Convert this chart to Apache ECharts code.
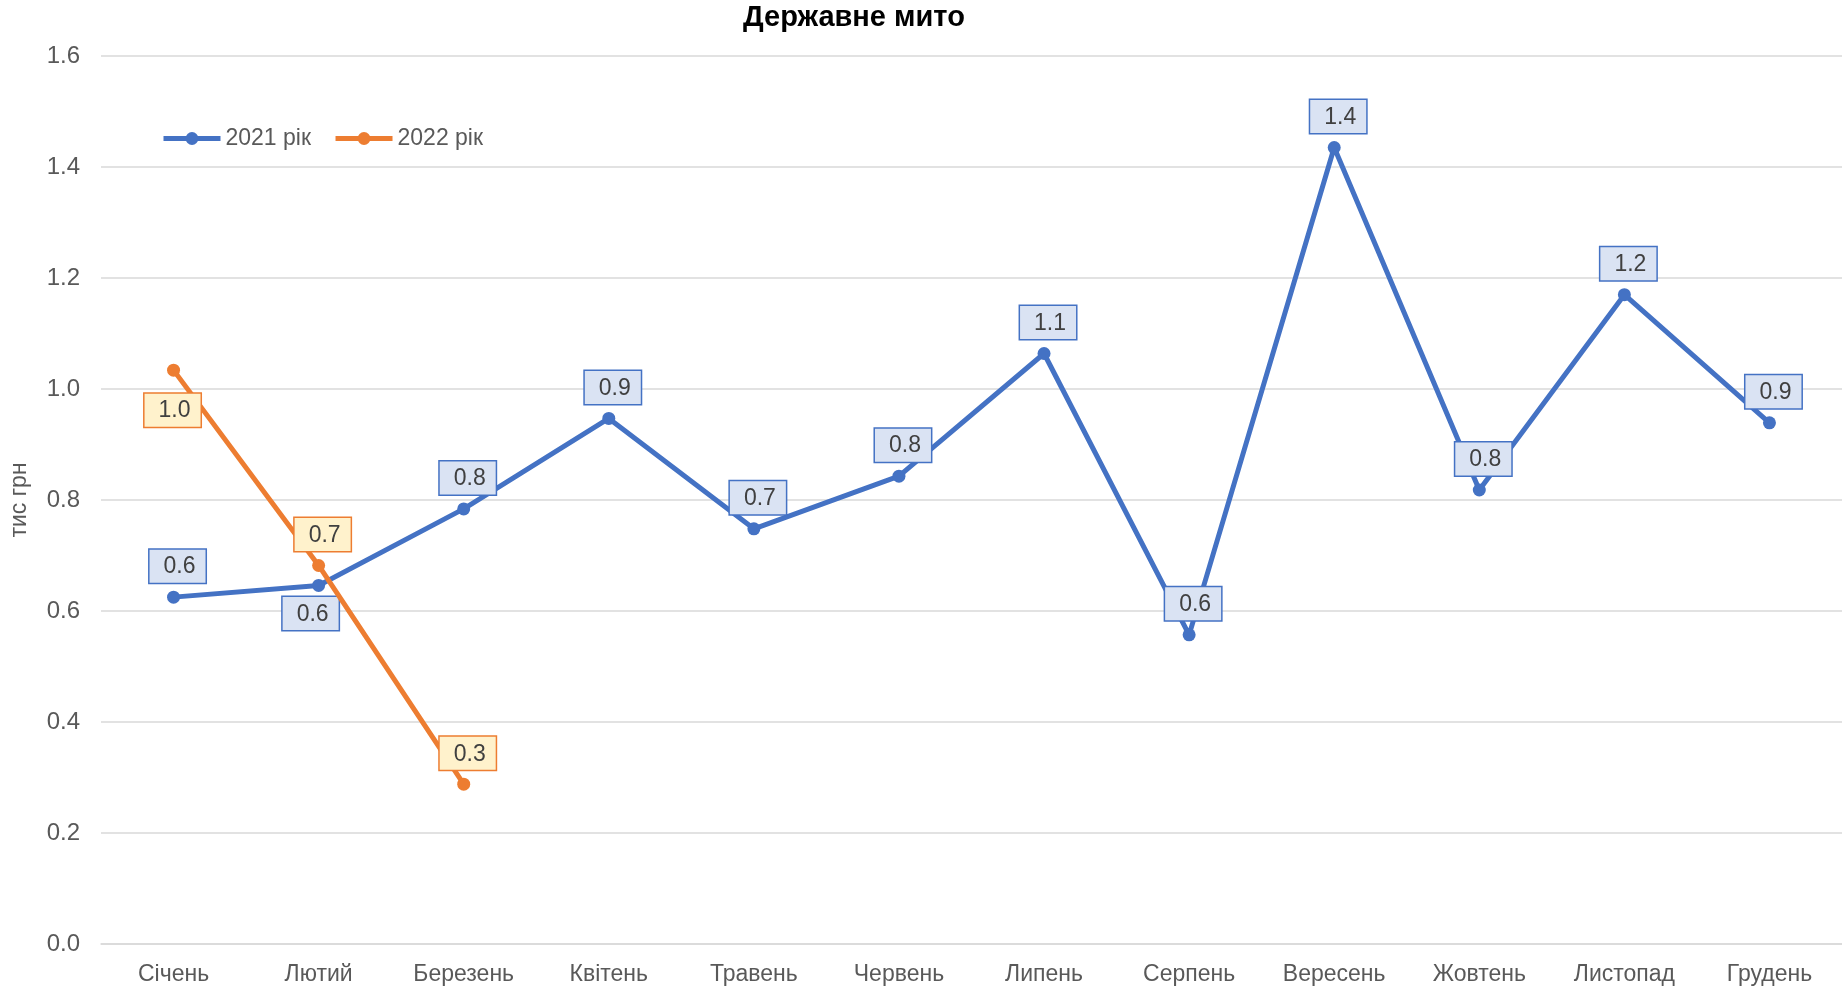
<!DOCTYPE html>
<html>
<head>
    <meta charset="utf-8">
    <title>Державне мито</title>
    <script src="https://cdn.jsdelivr.net/npm/echarts@6/dist/echarts.min.js"></script>
    <style>
        html, body { margin: 0; padding: 0; background: #fff; }
    </style>
</head>
<body>
    <div id="main" style="width: 1842px;height:990px;"></div>
    <script type="text/javascript">
        var myChart = echarts.init(document.getElementById('main'));

        // дані
        var months = ['Січень', 'Лютий', 'Березень', 'Квітень', 'Травень', 'Червень',
                      'Липень', 'Серпень', 'Вересень', 'Жовтень', 'Листопад', 'Грудень'];
        var values2021 = [0.625, 0.646, 0.784, 0.947, 0.748, 0.843, 1.064, 0.557, 1.435, 0.818, 1.170, 0.939];
        var values2022 = [1.034, 0.682, 0.288];
        var yTicks = [0, 0.2, 0.4, 0.6, 0.8, 1.0, 1.2, 1.4, 1.6];

        var font = '"Liberation Sans", Arial, sans-serif';

        // підпис під точкою замість над нею
        function buildData(values, below, belowOffset) {
            return values.map(function (v, i) {
                var isBelow = below.indexOf(i) >= 0;
                return {
                    value: v,
                    label: {
                        position: isBelow ? 'bottom' : 'top',
                        offset: isBelow ? belowOffset : [4, 0]
                    }
                };
            });
        }

        function labelStyle(bg, border) {
            return {
                show: true,
                distance: 8,
                formatter: function (p) { return p.value.toFixed(1); },
                fontFamily: font,
                fontSize: 23,
                color: '#404040',
                backgroundColor: bg,
                borderColor: border,
                borderWidth: 1.5,
                padding: [6, 10, 4, 14]
            };
        }

        var option = {
            animation: false,
            title: {
                text: 'Державне мито',
                left: 738,
                top: -2,
                textStyle: { fontFamily: font, fontSize: 29, fontWeight: 'bold', color: '#000' }
            },
            legend: {
                left: 156,
                top: 122,
                itemWidth: 57,
                itemHeight: 16,
                itemGap: 22,
                lineStyle: { width: 5 },
                textStyle: { fontFamily: font, fontSize: 23, color: '#595959' },
                data: ['2021 рік', '2022 рік']
            },
            grid: { left: 100, right: 0, top: 56, bottom: 46 },
            xAxis: {
                type: 'category',
                data: months,
                axisTick: { show: false },
                axisLine: { lineStyle: { color: '#d9d9d9', width: 1.5 } },
                axisLabel: { fontFamily: font, fontSize: 23, color: '#595959', margin: 19 }
            },
            yAxis: {
                type: 'value',
                min: yTicks[0],
                max: yTicks[yTicks.length - 1],
                interval: 0.2,
                name: 'тис грн',
                nameLocation: 'middle',
                nameGap: 70,
                nameTextStyle: { fontFamily: font, fontSize: 23, color: '#595959' },
                axisLine: { show: false },
                axisTick: { show: false },
                splitLine: { lineStyle: { color: '#d9d9d9', width: 1.5 } },
                axisLabel: {
                    fontFamily: font, fontSize: 24, color: '#595959', margin: 21,
                    formatter: function (v) { return v.toFixed(1); }
                }
            },
            series: [
                {
                    name: '2021 рік',
                    type: 'line',
                    data: buildData(values2021, [1], [-8, -3]),
                    symbol: 'circle',
                    symbolSize: 13,
                    lineStyle: { width: 5, color: '#4472c4' },
                    itemStyle: { color: '#4472c4' },
                    label: labelStyle('#dae3f3', '#4472c4'),
                    z: 2
                },
                {
                    name: '2022 рік',
                    type: 'line',
                    data: buildData(values2022, [0], [-1, 9]),
                    symbol: 'circle',
                    symbolSize: 13,
                    lineStyle: { width: 5, color: '#ed7d31' },
                    itemStyle: { color: '#ed7d31' },
                    label: labelStyle('#fff2cc', '#ed7d31'),
                    z: 3
                }
            ]
        };

        myChart.setOption(option);
    </script>
</body>
</html>
